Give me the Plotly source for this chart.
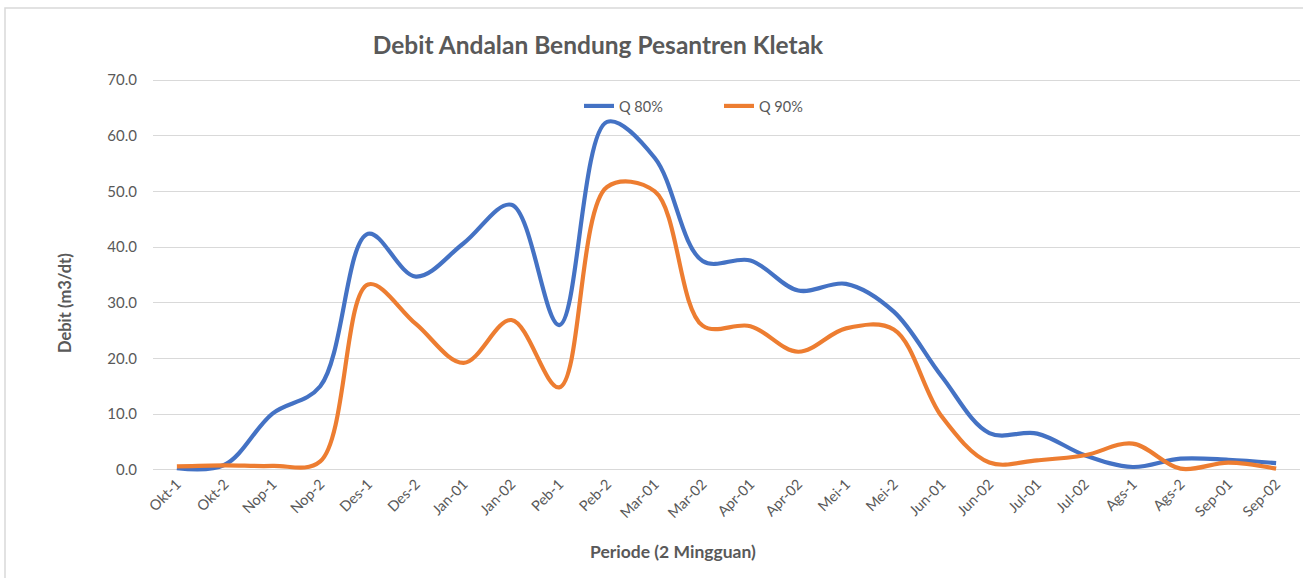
import plotly.graph_objects as go

periods = ["Okt-1", "Okt-2", "Nop-1", "Nop-2", "Des-1", "Des-2", "Jan-01", "Jan-02",
           "Peb-1", "Peb-2", "Mar-01", "Mar-02", "Apr-01", "Apr-02", "Mei-1", "Mei-2",
           "Jun-01", "Jun-02", "Jul-01", "Jul-02", "Ags-1", "Ags-2", "Sep-01", "Sep-02"]

q80 = [0.3, 0.9, 10.1, 15.0, 42.4, 34.7, 40.7, 47.6, 26.0, 62.5, 56.0, 37.5,
       37.6, 32.2, 33.4, 28.4, 16.8, 6.6, 6.5, 2.6, 0.5, 2.0, 1.8, 1.2]
q90 = [0.6, 0.8, 0.7, 1.5, 33.3, 26.2, 19.2, 26.9, 14.8, 50.8, 50.0, 25.9,
       25.8, 21.2, 25.4, 25.2, 9.6, 1.3, 1.7, 2.6, 4.7, 0.2, 1.3, 0.2]

yticks = [0, 10, 20, 30, 40, 50, 60, 70]

GRAY = "#595959"
FONT = "Lato"
W, H = 1303, 578
L, R, T, B = 153, 3, 79, 106
PW, PH = W - L - R, H - T - B

fig = go.Figure()
fig.add_trace(go.Scatter(x=periods, y=q80, name="Q 80%", mode="lines",
                         line=dict(color="#4472C4", width=4.2, shape="spline", smoothing=1.0)))
fig.add_trace(go.Scatter(x=periods, y=q90, name="Q 90%", mode="lines",
                         line=dict(color="#ED7D31", width=4.2, shape="spline", smoothing=1.0)))

fig.update_layout(
    width=W, height=H,
    margin=dict(l=L, r=R, t=T, b=B),
    paper_bgcolor="white", plot_bgcolor="white",
    font=dict(family=FONT, color=GRAY),
    title=dict(text="<b>Debit Andalan Bendung Pesantren Kletak</b>",
               x=598 / W, xanchor="center", y=1 - 45 / H, yanchor="middle",
               font=dict(size=24.5, color=GRAY, family=FONT)),
    legend=dict(orientation="h", x=(579 - L) / PW, xanchor="left",
                y=1 - (106 - T) / PH, yanchor="middle",
                font=dict(size=14.5, color=GRAY), entrywidth=95,
                bgcolor="rgba(0,0,0,0)", itemwidth=30),
    showlegend=True,
    xaxis=dict(type="category", range=[-0.5, 23.5], tickangle=-45,
               tickfont=dict(size=14.5, color=GRAY), showgrid=False, showline=False,
               ticks=""),
    yaxis=dict(range=[-0.4, 70.2], tickvals=yticks, tickformat=".1f",
               tickfont=dict(size=15, color=GRAY), showgrid=True,
               gridcolor="#D9D9D9", gridwidth=1, zeroline=False, showline=False,
               ticks="", ticklabelstandoff=15),
    annotations=[
        dict(text="<b>Periode (2 Mingguan)</b>", xref="paper", yref="paper",
             x=(673 - L) / PW, y=-(551 - (H - B)) / PH, xanchor="center", yanchor="middle",
             showarrow=False, font=dict(size=17.5, color=GRAY, family=FONT)),
        dict(text="<b>Debit (m3/dt)</b>", xref="paper", yref="paper",
             x=-(L - 65) / PW, y=1 - (303 - T) / PH, xanchor="center", yanchor="middle",
             textangle=-90, showarrow=False, font=dict(size=16.5, color=GRAY, family=FONT)),
    ],
)

fig.add_shape(type="rect", xref="paper", yref="paper",
              x0=-(L - 5) / PW, x1=1.2, y0=-0.5, y1=1 + (T - 8) / PH,
              line=dict(color="#D9D9D9", width=1.5), fillcolor="rgba(0,0,0,0)", layer="below")

fig.write_html("out.html", config={"displayModeBar": False},
               post_script="document.body.style.margin='0px';")
